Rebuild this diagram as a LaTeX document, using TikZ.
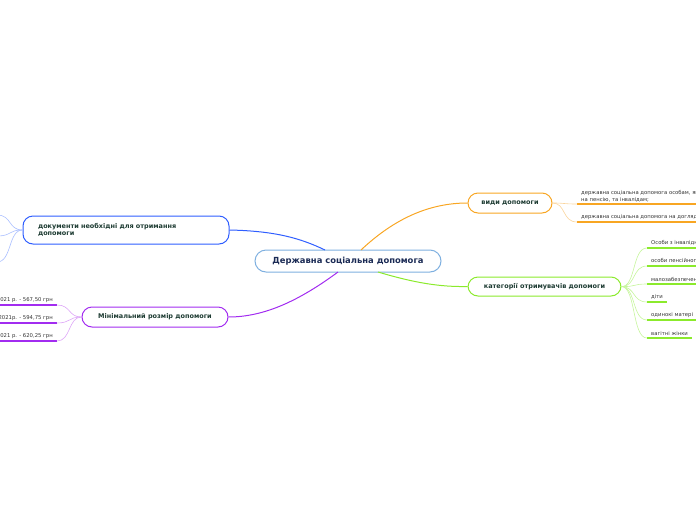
\documentclass[tikz,border=0pt]{standalone}
\usepackage{fontspec}
\setmainfont{DejaVu Sans}
\definecolor{cblue}{HTML}{7FB0E0}
\definecolor{navy}{HTML}{1B2B55}
\definecolor{dgreen}{HTML}{1D3B32}
\definecolor{bblue}{HTML}{2F5EFF}
\definecolor{lblue}{HTML}{A9BEFF}
\definecolor{orng}{HTML}{F8A623}
\definecolor{lorng}{HTML}{FAD49B}
\definecolor{grn}{HTML}{8BEA2C}
\definecolor{lgrn}{HTML}{C6F59C}
\definecolor{prpl}{HTML}{A22CF0}
\definecolor{lprpl}{HTML}{DDA6F7}
\definecolor{leaftext}{HTML}{333333}
\tikzset{
  mainbox/.style={draw=cblue, line width=1pt, fill=white, rounded corners=11pt,
    minimum width=186pt, minimum height=22pt, inner sep=0pt,
    font=\fontsize{8.4}{10}\selectfont\bfseries, text=navy},
  topic/.style={line width=1pt, fill=white, rounded corners=10pt, inner sep=0pt,
    minimum height=20pt, font=\fontsize{6.5}{7.6}\selectfont\bfseries, text=dgreen},
  leaf/.style={inner xsep=4pt, inner ysep=2.5pt, font=\fontsize{5.3}{6.6}\selectfont,
    text=leaftext, align=left},
  link/.style={line width=1pt},
  sublink/.style={line width=0.6pt},
}
\begin{document}
\begin{tikzpicture}[x=1pt,y=-1pt]
\useasboundingbox (0,0) rectangle (696,520);
\clip (0,0) rectangle (696,520);

% main topics
\node[mainbox] (c) at (348,261) {Державна соціальна допомога};
\node[topic, draw=orng, minimum width=84pt] (vydy) at (510,203) {види допомоги};
\node[topic, draw=grn, minimum width=153pt, minimum height=19pt] (kat) at (544.5,286.5) {категорії отримувачів допомоги};
\node[topic, draw=bblue, minimum width=206pt, minimum height=28pt, text width=176pt, align=left] (doc) at (126,230) {документи необхідні для отримання\\допомоги};
\node[topic, draw=prpl, minimum width=146pt] (min) at (155,317) {Мінімальний розмір допомоги};

% anchor points on the central topic
\coordinate (cNE) at (361,250);
\coordinate (cSE) at (378,272);
\coordinate (cNW) at (325,250);
\coordinate (cSW) at (338,272);

\draw[link, orng] (cNE) .. controls (395,218) and (430,203) .. (vydy.west);
\draw[link, grn] (cSE) .. controls (415,283) and (440,287) .. (kat.west);
\draw[link, bblue] (doc.east) .. controls (275,231) and (300,238) .. (cNW);
\draw[link, prpl] (cSW) .. controls (300,300) and (265,317) .. (min.east);

% види допомоги leaves
\node[leaf, anchor=south west, inner ysep=2pt] (v1) at (577,204) {державна соціальна допомога особам, які не мають права\\на пенсію, та інвалідам;};
\node[leaf, anchor=south west, inner ysep=2pt] (v2) at (577,222) {державна соціальна допомога на догляд};
\foreach \n in {v1,v2}{
  \draw[orng, line width=2pt] (\n.south west) -- (\n.south east);
  \draw[sublink, lorng] (vydy.east) .. controls (566,203) and (562,0 |- \n.south west) .. (\n.south west);
}

% категорії leaves
\node[leaf, anchor=south west] (k1) at (647,248) {Особи з інвалідністю};
\node[leaf, anchor=south west] (k2) at (647,266) {особи пенсійного віку};
\node[leaf, anchor=south west] (k3) at (647,284) {малозабезпечені сім'ї};
\node[leaf, anchor=south west] (k4) at (647,302) {діти};
\node[leaf, anchor=south west] (k5) at (647,320) {одинокі матері};
\node[leaf, anchor=south west] (k6) at (647,338) {вагітні жінки};
\foreach \n in {k1,k2,k3,k4,k5,k6}{
  \draw[grn, line width=1.6pt] (\n.south west) -- (\n.south east);
  \draw[sublink, lgrn] (kat.east) .. controls (636,287) and (632,0 |- \n.south west) .. (\n.south west);
}

% мінімальний розмір leaves
\node[leaf, anchor=south east] (m1) at (57,305) {з 1 січня 2021 р. - 567,50 грн};
\node[leaf, anchor=south east] (m2) at (57,323) {з 1 липня 2021р. - 594,75 грн};
\node[leaf, anchor=south east] (m3) at (57,341) {з 1 грудня 2021 р. - 620,25 грн};
\foreach \n in {m1,m2,m3}{
  \draw[prpl, line width=1.6pt] (\n.south west) -- (\n.south east);
  \draw[sublink, lprpl] (min.west) .. controls (68,317) and (71,0 |- \n.south east) .. (\n.south east);
}

% документи leaves (off the left edge)
\coordinate (d1) at (-3,215);
\coordinate (d2) at (-3,236);
\coordinate (d3) at (-3,262);
\foreach \n in {d1,d2,d3}{
  \draw[sublink, lblue] (doc.west) .. controls (8,230) and (12,0 |- \n) .. (\n);
}
\end{tikzpicture}
\end{document}
